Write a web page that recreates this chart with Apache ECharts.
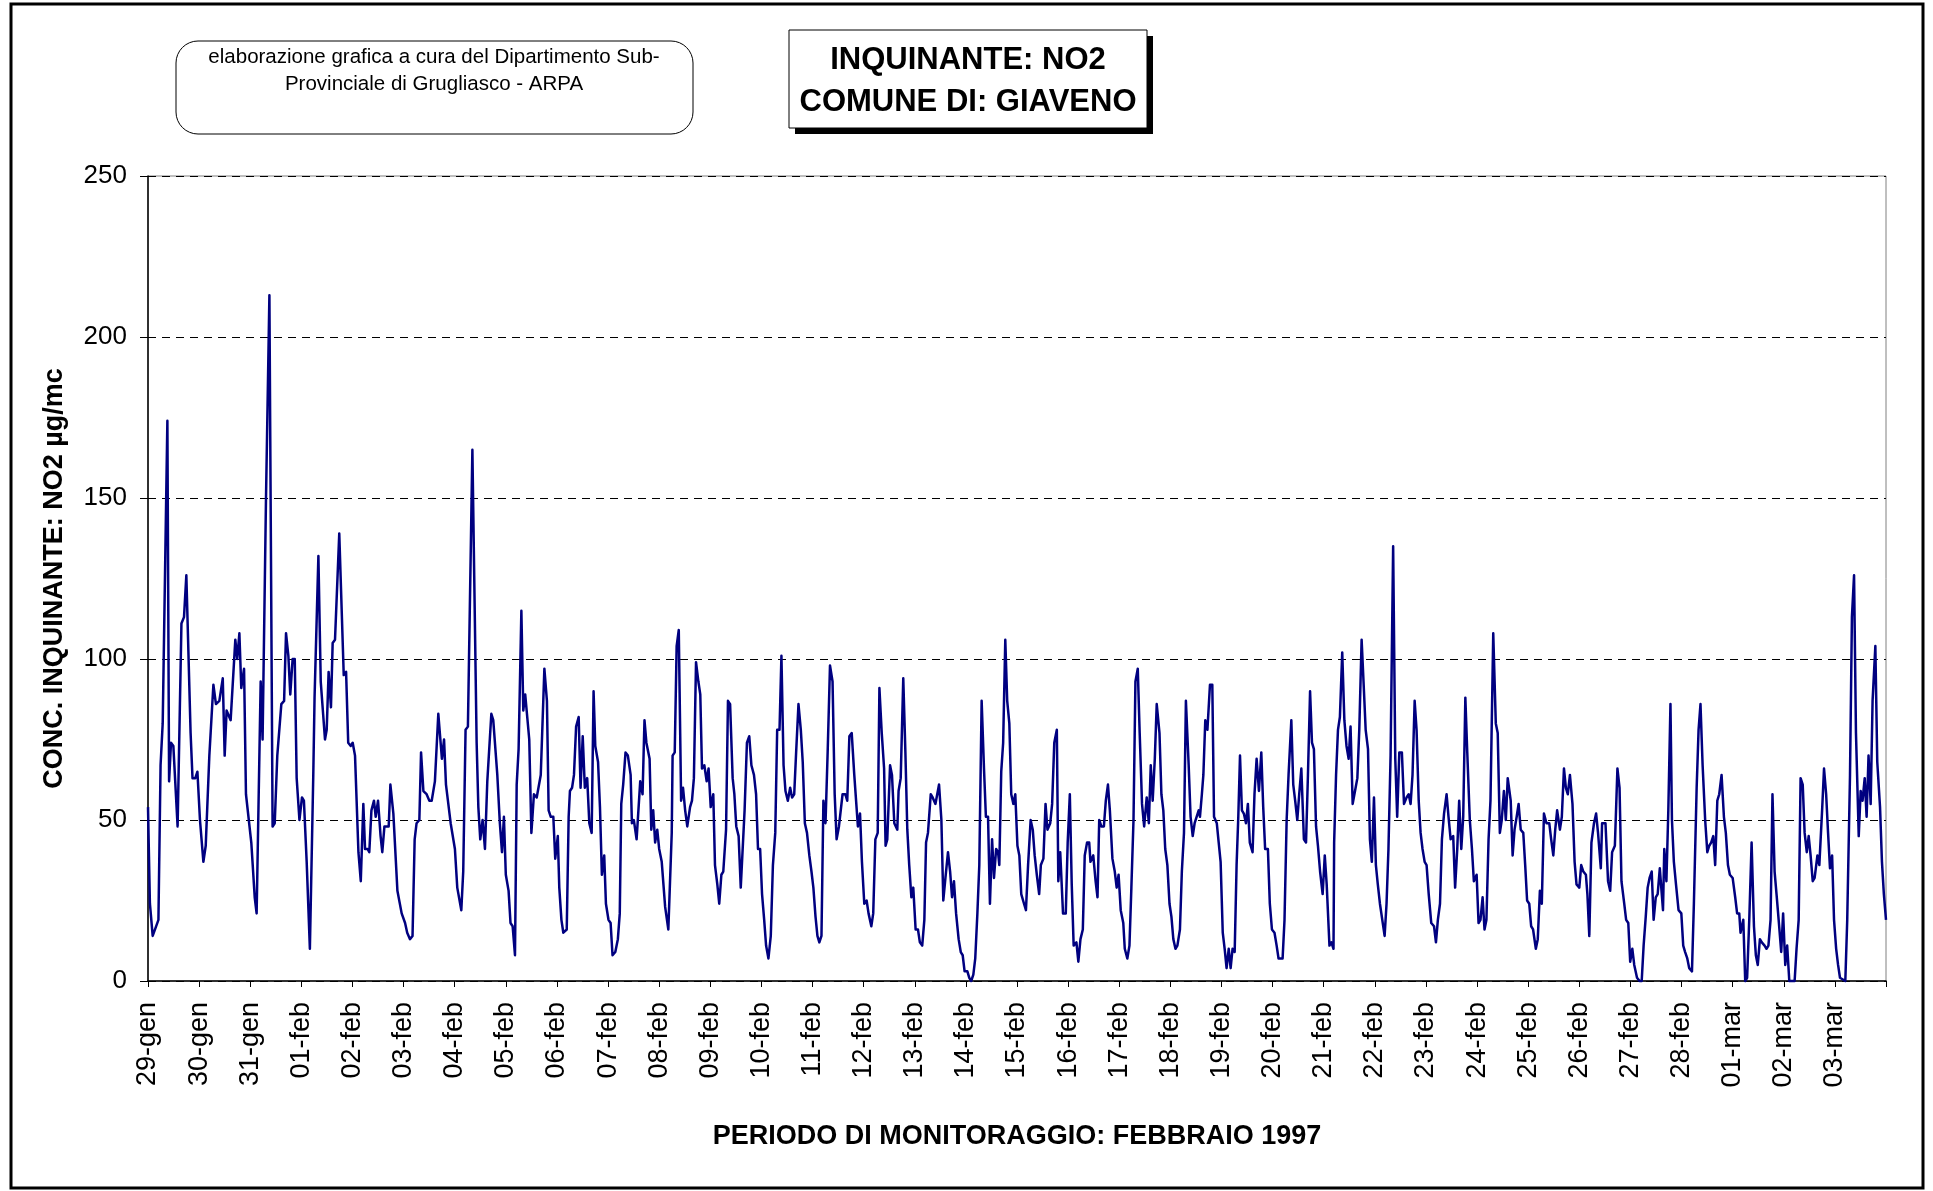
<!DOCTYPE html>
<html>
<head>
<meta charset="utf-8">
<script src="https://cdn.jsdelivr.net/npm/echarts@6/dist/echarts.min.js"></script>
<style>
html,body{margin:0;padding:0;background:#fff;}
#chart{width:1933px;height:1191px;}
</style>
</head>
<body>
<div id="chart"></div>
<script>
// Day labels (one per 24 hourly samples)
const dayLabels = ['29-gen','30-gen','31-gen','01-feb','02-feb','03-feb','04-feb','05-feb','06-feb','07-feb','08-feb','09-feb','10-feb','11-feb','12-feb','13-feb','14-feb','15-feb','16-feb','17-feb','18-feb','19-feb','20-feb','21-feb','22-feb','23-feb','24-feb','25-feb','26-feb','27-feb','28-feb','01-mar','02-mar','03-mar'];
const yTicks = [0, 50, 100, 150, 200, 250];

// NO2 readings [hour since 29-gen 00:00, µg/mc]
const no2Readings = [
[0,54],[0.9,24],[2.2,14],[3.1,14],[4.9,19],[5.9,67],[6.9,80],[9.1,174],[9.9,62],[10.8,74],[11.9,73],[13.9,48],[15.7,111],[16.9,113],[18.0,126],[20.0,77],[20.9,63],[22.2,63],[23.2,65],[24.4,50],[26.0,37],[27.1,42],[28.8,70],[30.7,92],[31.9,86],[33.5,87],[35.1,94],[36.0,70],[36.9,84],[38.8,81],[41.0,106],[41.9,100],[42.9,108],[43.8,91],[45.1,97],[46.0,58],[46.9,58],[48.5,43],[50.1,26],[51.0,21],[51.9,21],[52.9,93],[53.8,75],[55.4,150],[57.0,213],[58.5,48],[59.5,49],[60.7,70],[62.6,86],[63.9,87],[64.8,108],[65.9,101],[66.8,89],[67.9,100],[68.9,100],[69.8,63],[71.1,50],[72.3,57],[73.2,56],[74.5,37],[76.0,10],[77.6,64],[78.2,88],[80.0,132],
[81.1,93],[83.1,75],[83.9,78],[84.8,96],[85.9,85],[86.7,105],[87.8,106],[89.8,139],[91.9,95],[93.0,96],[94.0,74],[95.2,73],[96.1,74],[97.2,70],[98.8,40],[99.9,31],[101.1,55],[101.9,41],[103.1,41],[103.9,40],[104.9,53],[106.1,56],[106.9,51],[108.0,56],[109.2,45],[110.0,40],[111.0,48],[113.0,48],[113.8,61],[115.2,52],[117.1,28],[119.1,21],[120.7,18],[121.7,15],[123.0,13],[124.2,14],[125.2,44],[126.1,49],[127.4,50],[128.2,71],[129.3,59],[130.8,58],[132.1,56],[133.2,56],[134.7,62],[136.3,83],[138.0,69],[139.0,75],[139.9,61],[142.1,49],[144.1,41],[145.2,29],[147.1,22],[148.0,34],[149.1,78],[150.2,79],[152.3,165],[154.3,74],[155.1,54],[156.0,44],[157.1,50],[158.2,41],[159.3,62],[160.2,62],
[161.2,83],[162.1,81],[164.0,64],[165.2,49],[166.2,40],[167.1,51],[168.0,33],[169.3,28],[170.2,18],[171.2,17],[172.3,8],[173.1,61],[174.0,72],[175.3,115],[176.2,84],[177.1,89],[179.0,75],[180.0,46],[181.2,58],[182.5,57],[183.4,57],[184.4,64],[186.1,97],[187.3,87],[188.1,53],[189.1,51],[190.3,51],[191.2,38],[192.4,45],[193.1,29],[194.1,19],[195.0,15],[196.6,16],[197.5,51],[198.1,59],[199.1,60],[200.0,64],[201.0,79],[202.2,82],[203.1,60],[204.1,76],[205.1,60],[206.2,63],[207.2,49],[208.3,46],[209.2,90],[210.0,73],[211.3,68],[212.2,54],[213.1,33],[214.2,39],[215.0,24],[216.2,19],[217.2,18],[218.1,8],[219.4,9],[220.6,13],[221.5,21],[222.2,55],[223.1,61],[224.2,71],[225.3,70],[226.6,64],[227.2,49],[228.1,50],[229.4,44],[230.3,44],[231.1,62],[232.2,58],[233.1,81],[234.0,74],[235.5,69],[236.3,47],[237.2,53],[238.1,43],[239.1,47],[240.0,41],
[241.2,37],[242.8,23],[244.3,16],[245.9,46],[246.3,70],[247.3,71],[248.2,104],[249.2,109],[250.3,56],[251.2,60],[252.2,53],[253.2,48],[254.5,54],[255.4,56],[256.3,63],[257.3,99],[258.4,93],[259.3,89],[260.1,66],[261.2,67],[262.3,62],[263.2,66],[264.2,54],[265.4,58],[266.2,36],[267.3,30],[268.2,24],[269.2,33],[270.1,34],[271.4,47],[272.3,87],[273.3,86],[274.5,63],[275.3,58],[276.2,48],[277.3,45],[278.3,29],[279.2,29],[280.1,53],[281.2,74],[282.3,76],[283.3,67],[284.5,64],[285.5,58],[286.4,41],[287.4,41],[288.3,27],[289.3,19],[290.2,11],[291.3,7],[292.4,14],[293.4,36],[294.5,46],[295.4,78],[296.5,78],[297.4,101],[298.4,67],[299.3,59],[300.4,56],[301.5,60],[302.4,57],[303.4,58],[304.3,71],[305.4,86],[306.5,78],[307.4,68],[308.4,49],[309.4,46],[310.5,39],[311.5,34],[312.4,29],[313.4,20],[314.3,14],[315.2,12],[316.2,14],[317.1,56],[318.1,49],[319.1,71],[320.2,98],
[321.4,93],[322.4,58],[323.3,44],[324.4,48],[326.1,58],[327.4,58],[328.3,56],[329.3,76],[330.4,77],[331.6,64],[333.3,48],[334.3,52],[335.2,37],[336.3,24],[337.4,25],[338.3,21],[339.6,17],[340.5,21],[341.5,44],[342.6,46],[343.4,91],[344.5,77],[345.6,66],[346.3,42],[347.1,44],[348.4,67],[349.3,64],[350.4,49],[351.8,47],[352.4,59],[353.4,63],[354.6,94],[355.6,71],[356.5,47],[357.4,36],[358.4,26],[359.3,29],[360.4,16],[361.5,16],[362.4,12],[363.5,11],[364.5,19],[365.3,43],[366.2,46],[367.5,58],[368.4,57],[369.7,55],[371.4,61],[372.5,50],[373.4,25],[374.4,32],[375.6,40],[376.6,34],[377.5,26],[378.4,31],[379.4,21],[380.6,13],[381.6,9],[382.5,8],[383.4,3],[384.7,3],[385.6,1],[386.5,0],[387.5,2],[388.4,7],[389.4,21],[390.3,36],[391.4,87],[392.5,66],[393.4,51],[394.4,51],[395.3,24],[396.3,44],[397.2,32],[398.2,41],[399.1,40],[399.7,36],
[400.6,65],[401.5,74],[402.5,106],[403.4,87],[404.4,80],[405.3,58],[406.3,55],[407.2,58],[408.2,42],[409.1,39],[410.0,27],[411.3,24],[412.2,22],[413.2,36],[414.4,50],[415.4,47],[416.3,39],[417.3,33],[418.4,27],[419.2,36],[420.4,38],[421.4,55],[422.3,47],[423.6,49],[424.5,55],[425.5,74],[426.7,78],[427.4,31],[428.3,40],[429.6,21],[430.9,21],[431.8,43],[432.8,58],[433.7,30],[434.6,11],[435.9,12],[436.8,6],[437.8,13],[438.9,16],[439.8,39],[440.9,43],[441.9,43],[442.5,37],[443.8,39],[444.9,31],[445.8,26],[446.6,50],[447.6,48],[448.8,48],[449.7,56],[450.7,61],[451.6,53],[452.8,38],[453.9,34],[454.8,29],[455.7,33],[456.7,22],[457.9,18],[458.6,10],[459.8,7],[460.8,11],[461.7,29],[462.7,50],[463.6,93],[464.7,97],[465.6,77],[466.7,55],[467.7,48],[468.9,57],[469.9,49],[470.8,67],[471.7,56],[472.7,69],[473.6,86],[474.9,77],[475.8,58],
[476.7,53],[477.6,41],[478.6,36],[479.6,24],[480.5,20],[481.4,13],[482.4,10],[483.3,11],[484.5,16],[485.4,34],[486.4,46],[487.3,87],[488.6,67],[489.5,51],[490.5,45],[491.4,49],[492.3,49],[493.3,53],[493.9,51],[494.8,58],[495.5,64],[496.4,81],[497.4,78],[498.6,92],[499.7,92],[500.5,51],[501.8,49],[502.7,43],[503.6,37],[504.6,15],[505.5,10],[506.4,4],[507.4,10],[508.3,4],[509.2,10],[510.2,9],[511.1,36],[511.9,51],[512.7,70],[513.6,53],[514.5,52],[515.5,49],[516.4,55],[517.3,43],[518.6,40],[519.5,58],[520.5,69],[521.6,59],[522.7,71],[523.6,54],[524.5,41],[525.8,41],[526.7,24],[527.7,16],[528.9,15],[529.9,11],[530.8,7],[532.7,7],[533.6,19],[534.6,50],[535.5,64],[536.8,81],[537.7,61],[538.6,56],[539.6,50],[540.5,58],[541.5,66],[542.7,44],[543.7,43],[544.6,64],[545.6,90],[546.5,74],[547.4,72],[548.4,48],[549.3,42],[550.3,34],[551.5,27],[552.5,39],[553.4,30],[554.7,11],[555.6,12],[556.6,10],
[556.9,43],[557.8,64],[558.7,78],[559.6,82],[560.7,102],[561.7,81],[562.7,73],[563.7,69],[564.6,79],[565.6,55],[566.7,59],[567.8,63],[568.7,78],[569.8,106],[570.9,90],[571.7,78],[572.8,72],[573.7,44],[574.6,37],[575.6,57],[576.5,36],[577.4,30],[578.4,24],[579.3,24],[580.6,14],[581.5,24],[582.4,41],[583.4,70],[584.6,135],[585.6,69],[586.5,51],[587.5,71],[588.7,71],[589.7,55],[590.9,57],[591.9,58],[592.8,55],[593.7,64],[594.7,87],[595.6,78],[596.6,56],[597.5,46],[598.4,41],[599.4,37],[600.3,36],[601.3,27],[602.5,18],[603.8,17],[604.7,12],[605.6,19],[606.6,24],[607.5,44],[608.5,52],[609.7,58],[610.6,51],[611.6,44],[612.8,45],[613.7,29],[614.7,41],[615.6,56],[616.6,41],[617.5,51],[618.5,88],[619.4,71],[620.6,50],[621.6,41],[622.5,31],[623.8,33],[624.7,18],[625.6,19],[626.6,26],[627.5,16],[628.4,19],[629.4,44],[630.3,56],[631.6,108],[632.8,80],[633.7,77],[634.7,46],[635.6,50],[636.6,59],[637.5,50],[638.4,63],
[639.8,56],[640.7,39],[641.6,47],[642.6,51],[643.5,55],[644.5,47],[645.7,46],[646.6,36],[647.5,25],[648.5,24],[649.4,17],[650.3,16],[651.6,10],[652.5,13],[653.5,28],[654.4,24],[655.4,52],[656.6,49],[657.9,49],[658.8,44],[659.8,39],[660.7,47],[661.6,53],[662.9,47],[663.8,51],[664.8,66],[665.7,60],[666.6,58],[667.6,64],[668.8,55],[669.8,37],[670.7,30],[672.0,29],[672.9,36],[673.9,34],[675.1,33],[675.8,27],[676.7,14],[677.7,43],[678.9,49],[679.9,52],[680.8,46],[682.1,35],[682.7,49],[684.3,49],[685.5,31],[686.5,28],[687.4,40],[688.7,42],[689.9,66],[690.9,60],[691.8,31],[693.1,24],[694.0,19],[695.0,18],[695.9,6],[696.9,10],[697.8,5],[699.1,1],[700.3,0],[701.3,0],[702.2,11],[703.2,20],[704.1,29],[705.0,32],[706.0,34],[706.9,19],[707.9,26],[708.8,27],[709.8,35],[711.3,22],[711.9,41],[712.9,31],[713.8,53],[714.8,86],
[715.5,50],[716.4,37],[717.4,30],[718.6,22],[719.9,21],[720.8,11],[721.7,9],[722.7,7],[723.6,4],[724.9,3],[725.8,24],[727.1,60],[728.0,78],[728.9,86],[729.9,67],[731.1,50],[732.1,40],[733.0,42],[733.9,43],[734.9,45],[735.8,36],[736.8,56],[737.7,58],[738.8,64],[739.9,51],[740.8,46],[741.8,36],[742.7,33],[744.0,32],[745.2,26],[746.1,21],[747.1,21],[747.7,15],[749.0,19],[749.9,0],[750.8,1],[751.8,19],[752.9,43],[754.0,17],[754.9,8],[755.8,5],[756.8,13],[757.7,12],[759.0,11],[759.9,10],[760.8,11],[761.8,19],[762.7,58],[763.7,34],[764.6,27],[765.6,19],[766.8,9],[767.7,21],[768.7,5],[769.6,11],[770.6,0],[773.1,0],[774.0,10],[775.0,19],[775.9,63],[776.9,61],[777.8,46],[778.8,40],[779.7,45],[780.6,39],[781.6,31],[782.5,32],[783.8,39],[784.7,36],[786.0,53],[786.9,66],[787.9,58],[788.8,46],[789.7,35],[790.7,39],[791.6,19],[792.6,10],[793.5,5],[794.4,1],[796.9,0],[797.8,19],[799.1,64],[800.0,113],[801.0,126],[801.9,77],[803.2,45],[804.1,59],[805.0,56],[806.0,63],[806.9,51],[807.8,70],[808.8,55],[809.7,87],[811.0,104],[811.9,68],[813.2,54],[814.1,37],[815.0,27],[816.0,19]
];

const FONT = '"Liberation Sans", Arial, sans-serif';
const chart = echarts.init(document.getElementById('chart'), null, {renderer: 'canvas'});
const hoursTotal = dayLabels.length * 24;

chart.setOption({
  backgroundColor: '#ffffff',
  animation: false,
  grid: {left: 148, top: 176, width: 1738, height: 805, show: true, borderColor: '#808080', borderWidth: 1, backgroundColor: 'transparent'},
  xAxis: {
    type: 'value', min: 0, max: hoursTotal, interval: 24,
    name: 'PERIODO DI MONITORAGGIO: FEBBRAIO 1997',
    nameLocation: 'middle', nameGap: 142,
    nameTextStyle: {fontFamily: FONT, fontSize: 27, fontWeight: 'bold', color: '#000'},
    axisLine: {show: true, lineStyle: {color: '#000', width: 1.5}},
    axisTick: {show: true, length: 6, lineStyle: {color: '#000'}},
    splitLine: {show: false},
    axisLabel: {
      rotate: 90, margin: 21, fontFamily: FONT, fontSize: 27, color: '#000',
      showMaxLabel: true, showMinLabel: true,
      formatter: v => dayLabels[Math.round(v / 24)] || ''
    }
  },
  yAxis: {
    type: 'value', min: yTicks[0], max: yTicks[yTicks.length - 1], interval: 50,
    name: 'CONC. INQUINANTE: NO2 µg/mc',
    nameLocation: 'middle', nameGap: 80, nameRotate: 90,
    nameTextStyle: {fontFamily: FONT, fontSize: 27, fontWeight: 'bold', color: '#000'},
    axisLine: {show: true, lineStyle: {color: '#000', width: 1.5}},
    axisTick: {show: true, length: 8, lineStyle: {color: '#000'}},
    axisLabel: {margin: 21, fontFamily: FONT, fontSize: 26, color: '#000'},
    splitLine: {show: true, lineStyle: {color: '#000', width: 1, type: [8, 6]}}
  },
  series: [{
    type: 'line',
    data: no2Readings,
    showSymbol: false,
    symbol: 'none',
    clip: false,
    lineStyle: {color: '#000080', width: 2.5, join: 'round'}
  }],
  graphic: [
    {type: 'rect', shape: {x: 11, y: 4, width: 1912, height: 1184}, style: {fill: 'none', stroke: '#000', lineWidth: 3}, silent: true},
    {type: 'rect', shape: {x: 176, y: 41, width: 517, height: 93, r: 22}, style: {fill: '#fff', stroke: '#000', lineWidth: 1}},
    {type: 'text', x: 434, y: 57, style: {text: 'elaborazione grafica a cura del Dipartimento Sub-', font: '20.5px ' + FONT, fill: '#000', textAlign: 'center', textVerticalAlign: 'middle'}},
    {type: 'text', x: 434, y: 84, style: {text: 'Provinciale di Grugliasco - ARPA', font: '20.5px ' + FONT, fill: '#000', textAlign: 'center', textVerticalAlign: 'middle'}},
    {type: 'rect', shape: {x: 795, y: 36, width: 358, height: 98}, style: {fill: '#000'}},
    {type: 'rect', shape: {x: 789, y: 30, width: 358, height: 98}, style: {fill: '#fff', stroke: '#000', lineWidth: 1}},
    {type: 'text', x: 968, y: 60, style: {text: 'INQUINANTE: NO2', font: 'bold 31px ' + FONT, fill: '#000', textAlign: 'center', textVerticalAlign: 'middle'}},
    {type: 'text', x: 968, y: 102, style: {text: 'COMUNE DI: GIAVENO', font: 'bold 31px ' + FONT, fill: '#000', textAlign: 'center', textVerticalAlign: 'middle'}}
  ]
});
</script>
</body>
</html>
